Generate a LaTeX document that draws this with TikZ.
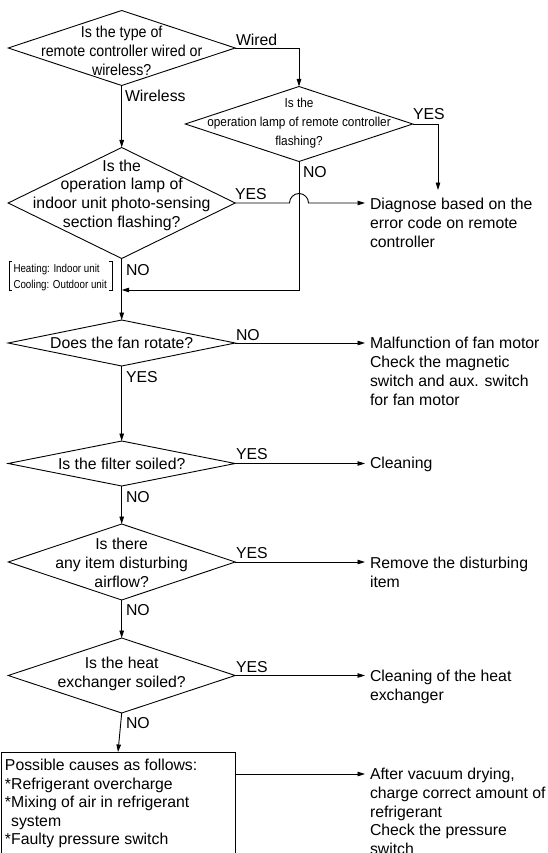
\documentclass[tikz,border=0pt]{standalone}
\usepackage{fontspec}
\setmainfont{Liberation Sans}
\newfontfamily\condA{Liberation Sans}[FakeStretch=0.9]
\newfontfamily\condB{Liberation Sans}[FakeStretch=0.91]
\newfontfamily\condC{Liberation Sans}[FakeStretch=0.85]
\usetikzlibrary{shapes.geometric,arrows.meta}

\begin{document}
\begin{tikzpicture}[x=1pt,y=-1pt,
  every node/.style={inner sep=0pt, outer sep=0pt},
  dia/.style={draw, diamond, line width=0.9pt, minimum width=227pt},
  arr/.style={line width=0.9pt, -{Triangle[length=7.5pt,width=4.5pt]}},
  qtxt/.style={font=\fontsize{15.8}{19}\selectfont, align=center},
  tag/.style={font=\fontsize{15.8}{19}\selectfont, anchor=base west},
  % multi-line blocks are placed by the baseline of their last line
  outtxt/.style={font=\fontsize{15.8}{19}\selectfont, align=left, anchor=base west, inner xsep=5pt},
]
\useasboundingbox (0,0) rectangle (548,853);
\clip (0,0) rectangle (548,853);

% decision diamonds and their questions
\node[dia, minimum height=75pt] (d1) at (121.7,48) {};
\node[qtxt, font=\condA\fontsize{15.8}{19}\selectfont] (q1) at (121.7,50.5)
  {Is the type of\\remote controller wired or\\wireless?};

\node[dia, minimum width=227.5pt, minimum height=75pt] (d2) at (299,124) {};
\node[qtxt, font=\condB\fontsize{13}{19}\selectfont] (q2) at (299,123)
  {Is the\\operation lamp of remote controller\\flashing?};

\node[dia, minimum height=111pt] (d3) at (121.7,203) {};
\node[qtxt, font=\fontsize{15.8}{18.7}\selectfont] (q3) at (121.7,195)
  {Is the\\operation lamp of\\indoor unit photo-sensing\\section flashing?};

\node[dia, minimum height=46pt] (d4) at (121.7,343) {};
\node[qtxt] (q4) at (121.7,343) {Does the fan rotate?};

\node[dia, minimum height=45pt] (d5) at (121.7,463.5) {};
\node[qtxt] (q5) at (121.7,464) {Is the filter soiled?};

\node[dia, minimum height=76pt] (d6) at (121.7,562) {};
\node[qtxt] (q6) at (121.7,562.5) {Is there\\any item disturbing\\airflow?};

\node[dia, minimum height=75pt] (d7) at (121.7,675.5) {};
\node[qtxt] (q7) at (121.7,674) {Is the heat\\exchanger soiled?};

% final box
\node[draw, line width=0.9pt, anchor=north west, minimum width=234pt, minimum height=140pt] (box) at (1,752) {};
\node[align=left, anchor=base west, font=\fontsize{15.8}{18.5}\selectfont] (bt) at (5,844.5)
  {Possible causes as follows:\\{*}Refrigerant overcharge\\{*}Mixing of air in refrigerant\\\phantom{*}system\\{*}Faulty pressure switch};

% remedies on the right
\node[outtxt] (r1) at (365,247.5) {Diagnose based on the\\error code on remote\\controller};
\node[outtxt] (r4) at (365,405.8) {Malfunction of fan motor\\Check the magnetic\\switch and aux. switch\\for fan motor};
\node[outtxt] (r5) at (365,468.8) {Cleaning};
\node[outtxt] (r6) at (365,587.5) {Remove the disturbing\\item};
\node[outtxt] (r7) at (365,700.5) {Cleaning of the heat\\exchanger};
\node[outtxt, font=\fontsize{15.8}{18.8}\selectfont] (r8) at (365,854.7)
  {After vacuum drying,\\charge correct amount of\\refrigerant\\Check the pressure\\switch};

% side note with brackets
\node[anchor=base west, align=left, font=\condC\fontsize{11.5}{16}\selectfont] (note) at (13.5,288)
  {Heating: Indoor unit\\Cooling: Outdoor unit};
\draw[line width=0.6pt] (12,261.5) -- (9,261.5) -- (9,290.5) -- (12,290.5);
\draw[line width=0.6pt] (109,261.5) -- (112,261.5) -- (112,290.5) -- (109,290.5);

% branch labels
\node[tag] (l1) at (236,45.5) {Wired};
\node[tag] (l2) at (125,101.5) {Wireless};
\node[tag] (l3) at (413,119.5) {YES};
\node[tag] (l4) at (303,177.5) {NO};
\node[tag] (l5) at (235,199.5) {YES};
\node[tag] (l6) at (126,275.5) {NO};
\node[tag] (l7) at (236,340.5) {NO};
\node[tag] (l8) at (126,382.5) {YES};
\node[tag] (l9) at (236,459.5) {YES};
\node[tag] (l10) at (126,502.5) {NO};
\node[tag] (l11) at (236,558.5) {YES};
\node[tag] (l12) at (126,615.5) {NO};
\node[tag] (l13) at (236,672.5) {YES};
\node[tag] (l14) at (126,728.5) {NO};

% connectors
\coordinate (k1) at (438,190);
\coordinate (m1) at (121.7,290);
\coordinate (hop) at (d2.south |- d3.east);
\coordinate (o8) at ([yshift=-22pt]box.north east);

\draw[arr] (d1.south) -- (d3.north);
\draw[arr] (d1.east) -| (d2.north);
\draw[arr] (d2.east) -| (k1);
\draw[arr] (d2.south) |- (m1);
\draw[arr] (d3.east) -- ([xshift=-9.5pt]hop) arc[start angle=180, end angle=0, radius=9.5pt]
  -- (d3.east -| r1.west);
\draw[arr] (d3.south) -- (d4.north);
\draw[arr] (d4.east) -- (d4.east -| r4.west);
\draw[arr] (d4.south) -- (d5.north);
\draw[arr] (d5.east) -- (d5.east -| r5.west);
\draw[arr] (d5.south) -- (d6.north);
\draw[arr] (d6.east) -- (d6.east -| r6.west);
\draw[arr] (d6.south) -- (d7.north);
\draw[arr] (d7.east) -- (d7.east -| r7.west);
\draw[arr] (d7.south) -- (box.north);
\draw[arr] (o8) -- (o8 -| r8.west);
\end{tikzpicture}
\end{document}
